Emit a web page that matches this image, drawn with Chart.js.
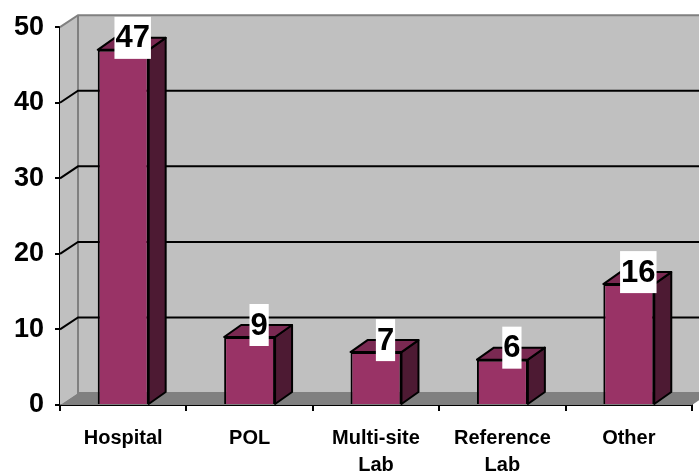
<!DOCTYPE html>
<html>
<head>
<meta charset="utf-8">
<script src="https://cdn.jsdelivr.net/npm/chart.js@4"></script>
<style>
  html, body { margin: 0; padding: 0; background: #fff; }
  #wrap { width: 699px; height: 475px; }
</style>
</head>
<body>
<div id="wrap"><canvas id="chart1" width="699" height="475"></canvas></div>
<script>
const categories = ["Hospital", "POL", ["Multi-site", "Lab"], ["Reference", "Lab"], "Other"];
const counts = [47, 9, 7, 6, 16];
const yMax = 50;
const yStep = 10;

const FONT = "Arial, 'Liberation Sans', sans-serif";
const depth = { x: 18, y: -12 };

// fake 3d: walls, floor, grid, then bar sides/tops and value boxes
const box3d = {
  id: "box3d",
  beforeDatasetsDraw(chart) {
    const ctx = chart.ctx;
    const a = chart.chartArea;
    const ys = chart.scales.y;
    const L = a.left, R = a.right, T = a.top, B = a.bottom;
    const dx = depth.x, dy = depth.y;
    ctx.save();
    // side wall
    ctx.fillStyle = "#c0c0c0";
    ctx.beginPath();
    ctx.moveTo(L, T); ctx.lineTo(L + dx, T + dy); ctx.lineTo(L + dx, B + dy); ctx.lineTo(L, B);
    ctx.closePath(); ctx.fill();
    // back wall
    ctx.fillRect(L + dx, T + dy, R - L + 20, B - T);
    // floor
    ctx.fillStyle = "#808080";
    ctx.beginPath();
    ctx.moveTo(L, B); ctx.lineTo(L + dx, B + dy); ctx.lineTo(R + dx, B + dy); ctx.lineTo(R, B);
    ctx.closePath(); ctx.fill();
    // edges
    ctx.strokeStyle = "#808080";
    ctx.lineWidth = 2;
    ctx.beginPath();
    ctx.moveTo(L, T); ctx.lineTo(L + dx, T + dy); ctx.lineTo(R + dx + 10, T + dy);
    ctx.moveTo(L + dx, T + dy); ctx.lineTo(L + dx, B + dy); ctx.lineTo(R + dx + 10, B + dy);
    ctx.stroke();
    // grid lines
    ctx.strokeStyle = "#000";
    ctx.beginPath();
    for (let v = yStep; v < yMax; v += yStep) {
      const y = ys.getPixelForValue(v);
      ctx.moveTo(L, y); ctx.lineTo(L + dx, y + dy); ctx.lineTo(R + dx + 10, y + dy);
    }
    ctx.stroke();
    ctx.restore();
  },
  afterDatasetsDraw(chart) {
    const ctx = chart.ctx;
    const dx = depth.x - 1, dy = depth.y;
    const meta = chart.getDatasetMeta(0);
    ctx.save();
    ctx.lineWidth = 2;
    ctx.strokeStyle = "#000";
    ctx.lineJoin = "round";
    meta.data.forEach((bar, i) => {
      const w = bar.width;
      const l = bar.x - w / 2, r = bar.x + w / 2;
      const top = bar.y, base = bar.base;
      ctx.fillStyle = "#4d1a33";
      ctx.beginPath();
      ctx.moveTo(r, top); ctx.lineTo(r + dx, top + dy); ctx.lineTo(r + dx, base + dy); ctx.lineTo(r, base);
      ctx.closePath(); ctx.fill(); ctx.stroke();
      ctx.fillStyle = "#7a2952";
      ctx.beginPath();
      ctx.moveTo(l, top); ctx.lineTo(l + dx, top + dy); ctx.lineTo(r + dx, top + dy); ctx.lineTo(r, top);
      ctx.closePath(); ctx.fill(); ctx.stroke();
    });
    // value labels
    ctx.font = "bold 31px " + FONT;
    ctx.textAlign = "center";
    ctx.textBaseline = "middle";
    meta.data.forEach((bar, i) => {
      const txt = String(counts[i]);
      const tw = ctx.measureText(txt).width + 2;
      const cx = bar.x + dx / 2 + 1;
      const cy = bar.y + dy / 2 - 6;
      ctx.fillStyle = "#fff";
      ctx.fillRect(cx - tw / 2, cy - 21, tw, 42);
      ctx.fillStyle = "#000";
      ctx.fillText(txt, cx, cy + 1);
    });
    ctx.restore();
  }
};

new Chart("chart1", {
  type: "bar",
  data: {
    labels: categories,
    datasets: [{
      data: counts,
      backgroundColor: "#993366",
      borderColor: "#000",
      borderWidth: 2,
      categoryPercentage: 1,
      barPercentage: 0.403
    }]
  },
  options: {
    responsive: false,
    animation: false,
    layout: { padding: { top: 20, right: 7, left: 0, bottom: 0 } },
    plugins: { legend: { display: false }, tooltip: { enabled: false } },
    scales: {
      y: {
        min: 0,
        max: yMax,
        afterFit: s => { s.width = 60; },
        ticks: { stepSize: yStep, color: "#000", padding: 11, font: { family: FONT, size: 27, weight: "bold" } },
        grid: { drawOnChartArea: false, tickLength: 5, color: "#000", lineWidth: 2 },
        border: { color: "#000", width: 2 }
      },
      x: {
        afterFit: s => { s.height = 70; },
        ticks: { color: "#000", padding: 14, maxRotation: 0, font: { family: FONT, size: 20, weight: "bold", lineHeight: 1.35 } },
        grid: { offset: true, drawOnChartArea: false, tickLength: 6, color: "#000", lineWidth: 2 },
        border: { color: "#000", width: 2 }
      }
    }
  },
  plugins: [box3d]
});
</script>
</body>
</html>
